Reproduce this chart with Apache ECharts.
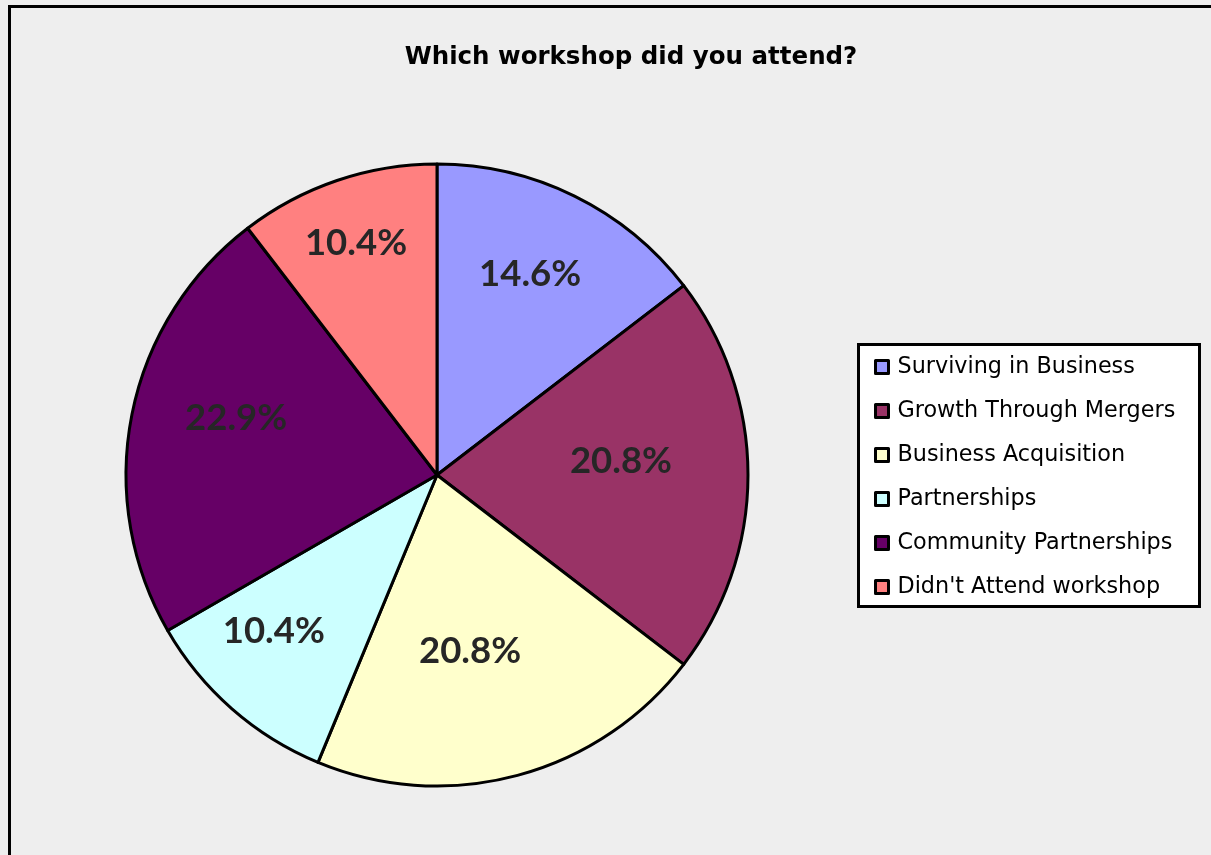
<!DOCTYPE html>
<html>
<head>
<meta charset="utf-8">
<script src="https://cdn.jsdelivr.net/npm/echarts@6/dist/echarts.min.js"></script>
<style>
html,body{margin:0;padding:0;background:#eeeeee;}
#chart{width:1211px;height:855px;}
</style>
</head>
<body>
<div id="chart"></div>
<script>
// Data
const categories = ['Surviving in Business','Growth Through Mergers','Business Acquisition','Partnerships','Community Partnerships',"Didn't Attend workshop"];
const counts = [7, 10, 10, 5, 11, 5];
const colors = ['#9999ff','#993366','#ffffcc','#ccffff','#660066','#ff8080'];
const titleText = 'Which workshop did you attend?';

// Label placement (style): radius fraction and angle nudge (degrees) per slice
const CX = 437, CY = 475, R = 311;
const labelFrac = [0.711, 0.593, 0.577, 0.727, 0.671, 0.790];
const labelNudge = [-1.35, -4.2, 4.4, 4.95, 4.45, -0.5];
const total = counts.reduce((a,b)=>a+b,0);
const cum = [];
counts.reduce((acc,v,i)=>{cum[i]=acc; return acc+v;},0);

const chart = echarts.init(document.getElementById('chart'));
chart.setOption({
  backgroundColor: '#eeeeee',
  animation: false,
  title: {
    text: titleText,
    left: 626, top: 40, textAlign: 'center',
    textStyle: {fontFamily: 'DejaVu Sans', fontWeight: 'bold', fontSize: 24.5, color: '#000'}
  },
  graphic: [
    {type:'rect', shape:{x:9.5, y:6.5, width:1300, height:900}, style:{fill:'none', stroke:'#000', lineWidth:3}, z:-1},
    {type:'rect', shape:{x:858.5, y:344.5, width:341, height:262}, style:{fill:'#ffffff', stroke:'#000', lineWidth:3}, z:-1}
  ],
  legend: {
    orient: 'vertical',
    left: 869, top: 350,
    icon: 'rect',
    itemWidth: 13, itemHeight: 13,
    itemGap: 20,
    itemStyle: {borderColor: '#000', borderWidth: 3},
    textStyle: {fontFamily: 'DejaVu Sans', fontSize: 22.3, color: '#000', lineHeight: 24, padding: [0,0,0,4]},
    data: categories
  },
  series: [{
    type: 'pie',
    center: [CX, CY],
    radius: [0, R],
    startAngle: 90,
    clockwise: true,
    avoidLabelOverlap: false,
    itemStyle: {borderColor: '#000', borderWidth: 3},
    label: {
      show: true, position: 'inside',
      formatter: p => p.percent.toFixed(1) + '%',
      fontFamily: 'Lato', fontWeight: 'bold', fontSize: 36.5, color: '#262626'
    },
    labelLayout: function (p) {
      const i = p.dataIndex;
      const mid = (cum[i] + counts[i] / 2) / total * 2 * Math.PI + labelNudge[i] * Math.PI / 180;
      const r = labelFrac[i] * R;
      return {x: CX + r * Math.sin(mid), y: CY - r * Math.cos(mid), align: 'center', verticalAlign: 'middle'};
    },
    labelLine: {show: false},
    emphasis: {disabled: true},
    data: categories.map((c, i) => ({name: c, value: counts[i], itemStyle: {color: colors[i]}}))
  }]
});
</script>
</body>
</html>
